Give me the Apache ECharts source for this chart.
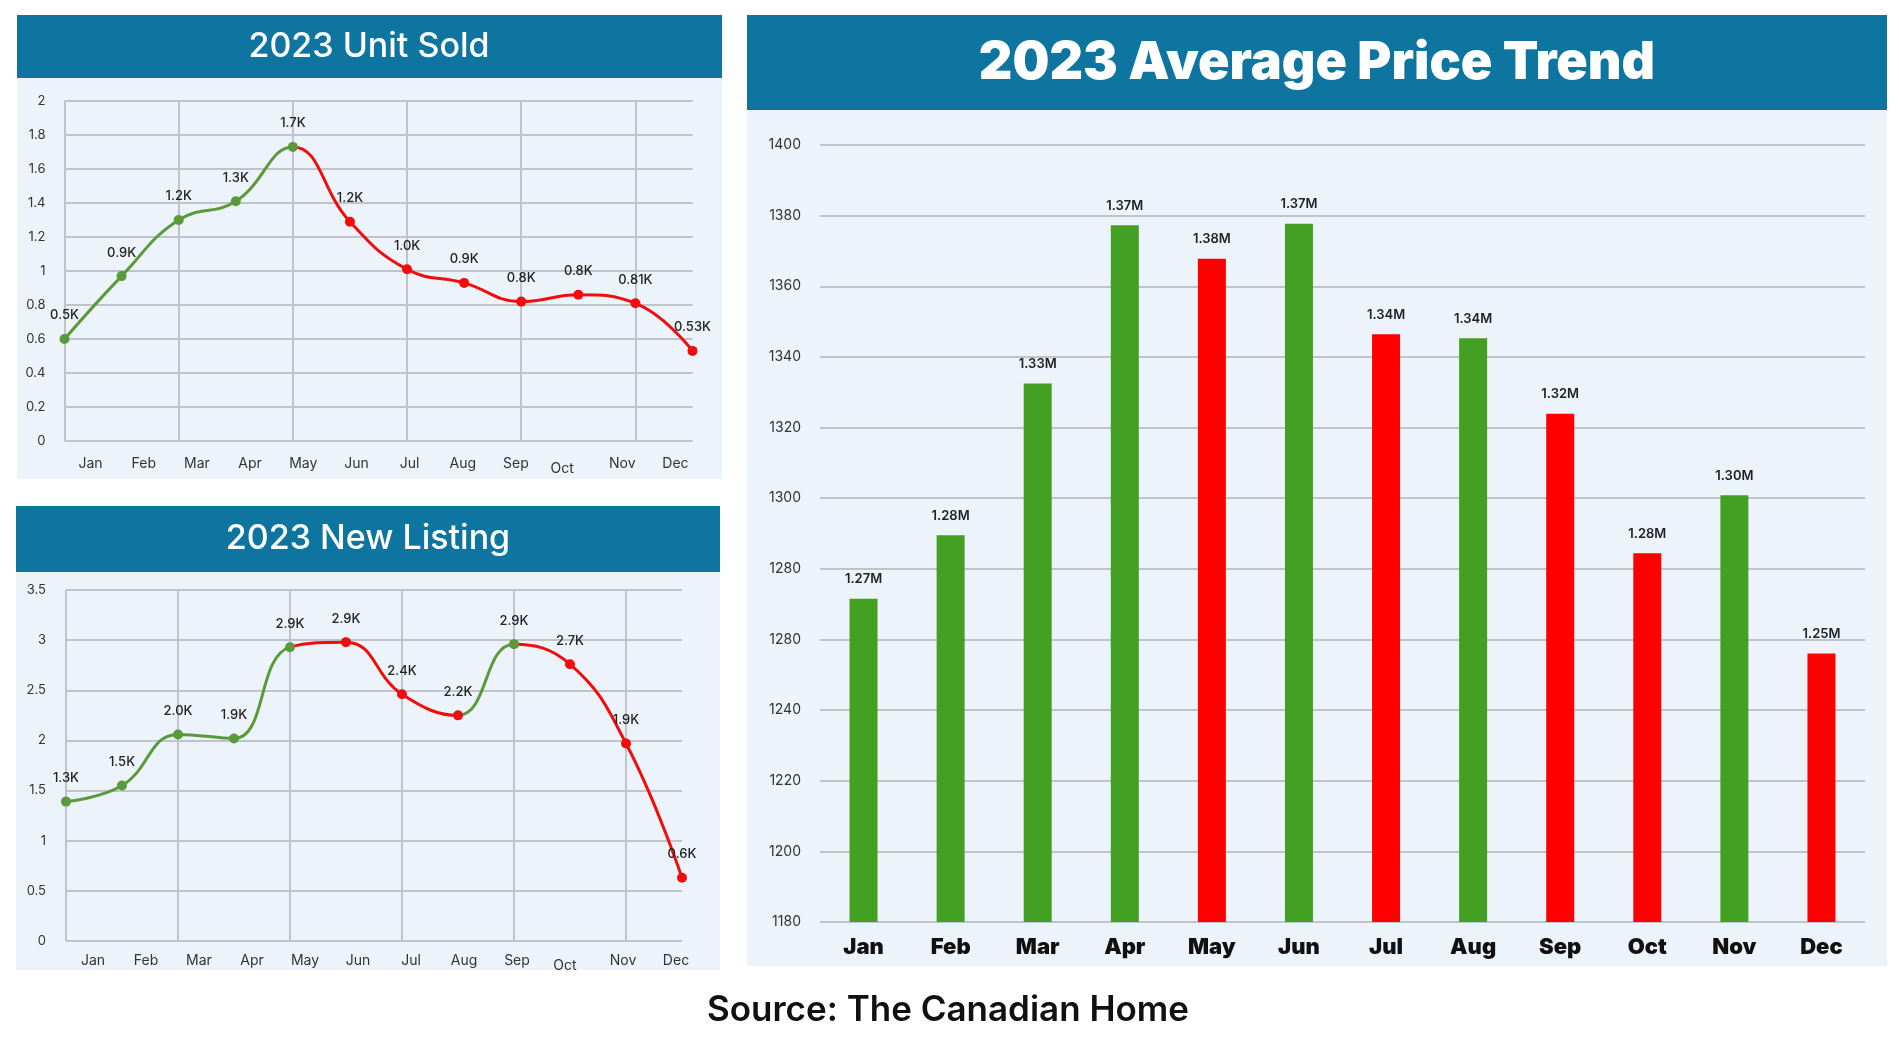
<!DOCTYPE html>
<html>
<head>
<meta charset="utf-8">
<script src="https://cdn.jsdelivr.net/npm/echarts@6/dist/echarts.min.js"></script>
<style>
html,body{margin:0;padding:0;background:#ffffff;}
#main{position:absolute;left:0;top:0;width:1899px;height:1042px;}
</style>
</head>
<body>
<div id="main"></div>
<script>
// ---------- data ----------
var months = ['Jan','Feb','Mar','Apr','May','Jun','Jul','Aug','Sep','Oct','Nov','Dec'];

var unitSold = [0.6, 0.97, 1.3, 1.41, 1.73, 1.29, 1.01, 0.93, 0.82, 0.86, 0.81, 0.53];
var unitSoldLabels = ['0.5K','0.9K','1.2K','1.3K','1.7K','1.2K','1.0K','0.9K','0.8K','0.8K','0.81K','0.53K'];
var unitSoldTrend = ['up','up','up','up','up','down','down','down','down','down','down','down'];

var newListing = [1.39, 1.55, 2.06, 2.02, 2.93, 2.98, 2.46, 2.25, 2.96, 2.76, 1.97, 0.63];
var newListingLabels = ['1.3K','1.5K','2.0K','1.9K','2.9K','2.9K','2.4K','2.2K','2.9K','2.7K','1.9K','0.6K'];
var newListingTrend = ['up','up','up','up','up','down','down','down','up','down','down','down'];

var avgPrice = [1271.5, 1289.5, 1332.5, 1377.3, 1367.8, 1377.7, 1346.4, 1345.3, 1323.9, 1284.4, 1300.8, 1256];
var avgPriceLabels = ['1.27M','1.28M','1.33M','1.37M','1.38M','1.37M','1.34M','1.34M','1.32M','1.28M','1.30M','1.25M'];
var avgPriceTrend = ['up','up','up','up','down','up','down','up','down','down','up','down'];
var priceTickValues = [1180,1200,1220,1240,1260,1280,1300,1320,1340,1360,1380,1400];
var priceTickLabels = ['1180','1200','1220','1240','1280','1280','1300','1320','1340','1360','1380','1400'];

var titles = ['2023 Unit Sold', '2023 New Listing', '2023 Average Price Trend'];
var sourceText = 'Source: The Canadian Home';

// ---------- style ----------
var LINE_GREEN = '#5b9a3a', LINE_RED = '#f20d0d';
var BAR_GREEN = '#44a023', BAR_RED = '#ff0000';
var HEADER = '#0e75a0', PANEL = '#ecf3fa', GRIDC = '#bfc4ca';
var FONT = 'Inter, "Noto Sans", sans-serif';

function pieces(trend, up, down) {
  return trend.map(function (t, i) {
    var p = { color: t === 'up' ? up : down };
    if (i === 0) { p.lte = 0; } else { p.gt = i - 1; p.lte = i; }
    return p;
  });
}

function monthLabelStyle(margin, octShift) {
  return {
    interval: 0, margin: margin, color: '#333', fontSize: 14, fontFamily: FONT,
    formatter: function (v) { return v === 'Oct' ? '{o|' + v + '}' : v; },
    rich: { o: { padding: [5, octShift, 0, 0], color: '#333', fontSize: 14, fontFamily: FONT } }
  };
}

var chart = echarts.init(document.getElementById('main'), null, { renderer: 'canvas' });

var option = {
  backgroundColor: '#ffffff',
  animation: false,
  graphic: [
    { type: 'rect', z: -10, shape: { x: 17, y: 78, width: 705, height: 401 }, style: { fill: PANEL } },
    { type: 'rect', z: -10, shape: { x: 17, y: 15, width: 705, height: 63 }, style: { fill: HEADER } },
    { type: 'text', z: 10, style: { text: titles[0], x: 369, y: 47, textAlign: 'center', textVerticalAlign: 'middle', align: 'center', verticalAlign: 'middle', fill: '#ffffff', font: '500 34px ' + FONT } },

    { type: 'rect', z: -10, shape: { x: 16, y: 572, width: 704, height: 398 }, style: { fill: PANEL } },
    { type: 'rect', z: -10, shape: { x: 16, y: 506, width: 704, height: 66 }, style: { fill: HEADER } },
    { type: 'text', z: 10, style: { text: titles[1], x: 368, y: 539, textAlign: 'center', textVerticalAlign: 'middle', align: 'center', verticalAlign: 'middle', fill: '#ffffff', font: '500 34px ' + FONT } },

    { type: 'rect', z: -10, shape: { x: 747, y: 110, width: 1140, height: 856 }, style: { fill: PANEL } },
    { type: 'rect', z: -10, shape: { x: 747, y: 15, width: 1140, height: 95 }, style: { fill: HEADER } },
    { type: 'text', z: 10, style: { text: titles[2], x: 1317, y: 63, textAlign: 'center', textVerticalAlign: 'middle', align: 'center', verticalAlign: 'middle', fill: '#ffffff', font: '900 52px ' + FONT } },

    { type: 'text', z: 10, style: { text: sourceText, x: 948, y: 1010, textAlign: 'center', textVerticalAlign: 'middle', align: 'center', verticalAlign: 'middle', fill: '#111111', font: '600 35px ' + FONT } }
  ],
  grid: [
    { left: 64.5, top: 101, width: 628, height: 340 },   // 0 unit sold data
    { left: 64, top: 101, width: 638, height: 340 },     // 1 unit sold month labels
    { left: 66, top: 590, width: 616, height: 351 },     // 2 new listing data
    { left: 66.5, top: 590, width: 636, height: 351 },   // 3 new listing month labels
    { left: 820, top: 145, width: 1045, height: 777 }    // 4 price bars
  ],
  xAxis: [
    { gridIndex: 0, type: 'category', data: months, boundaryGap: false,
      axisLine: { show: false }, axisTick: { show: false }, axisLabel: { show: false },
      splitLine: { show: true, interval: 1, lineStyle: { color: GRIDC, width: 2 } } },
    { gridIndex: 1, type: 'category', data: months, boundaryGap: true,
      axisLine: { show: false }, axisTick: { show: false }, splitLine: { show: false },
      axisLabel: monthLabelStyle(16, 14) },
    { gridIndex: 2, type: 'category', data: months, boundaryGap: false,
      axisLine: { show: false }, axisTick: { show: false }, axisLabel: { show: false },
      splitLine: { show: true, interval: 1, lineStyle: { color: GRIDC, width: 2 } } },
    { gridIndex: 3, type: 'category', data: months, boundaryGap: true,
      axisLine: { show: false }, axisTick: { show: false }, splitLine: { show: false },
      axisLabel: monthLabelStyle(13, 10) },
    { gridIndex: 4, type: 'category', data: months, boundaryGap: true,
      axisLine: { show: false }, axisTick: { show: false }, splitLine: { show: false },
      axisLabel: { interval: 0, margin: 14, color: '#111', fontSize: 22, fontWeight: 900, fontFamily: FONT } }
  ],
  yAxis: [
    { gridIndex: 0, type: 'value', min: 0, max: 2, interval: 0.2,
      axisLine: { show: false }, axisTick: { show: false },
      axisLabel: { margin: 19, color: '#333', fontSize: 13, fontFamily: FONT },
      splitLine: { lineStyle: { color: GRIDC, width: 2 } } },
    { gridIndex: 1, type: 'value', show: false, min: 0, max: 1 },
    { gridIndex: 2, type: 'value', min: 0, max: 3.5, interval: 0.5,
      axisLine: { show: false }, axisTick: { show: false },
      axisLabel: { margin: 20, color: '#333', fontSize: 13, fontFamily: FONT },
      splitLine: { lineStyle: { color: GRIDC, width: 2 } } },
    { gridIndex: 3, type: 'value', show: false, min: 0, max: 1 },
    { gridIndex: 4, type: 'value', min: priceTickValues[0], max: priceTickValues[priceTickValues.length - 1], interval: 20,
      axisLine: { show: false }, axisTick: { show: false },
      axisLabel: { margin: 19, color: '#333', fontSize: 14, fontFamily: FONT,
        formatter: function (v) { var i = priceTickValues.indexOf(Math.round(v)); return i >= 0 ? priceTickLabels[i] : ''; } },
      splitLine: { lineStyle: { color: GRIDC, width: 2 } } }
  ],
  visualMap: [
    { type: 'piecewise', show: false, seriesIndex: 0, dimension: 0, pieces: pieces(unitSoldTrend, LINE_GREEN, LINE_RED) },
    { type: 'piecewise', show: false, seriesIndex: 1, dimension: 0, pieces: pieces(newListingTrend, LINE_GREEN, LINE_RED) }
  ],
  series: [
    { type: 'line', xAxisIndex: 0, yAxisIndex: 0, data: unitSold, smooth: 0.45,
      symbol: 'circle', symbolSize: 10, lineStyle: { width: 3 },
      label: { show: true, position: 'top', distance: 12, color: '#222', fontSize: 13, fontWeight: 500, fontFamily: FONT,
        formatter: function (p) { return unitSoldLabels[p.dataIndex]; } } },
    { type: 'line', xAxisIndex: 2, yAxisIndex: 2, data: newListing, smooth: 0.45,
      symbol: 'circle', symbolSize: 10, lineStyle: { width: 3 },
      label: { show: true, position: 'top', distance: 12, color: '#222', fontSize: 13, fontWeight: 500, fontFamily: FONT,
        formatter: function (p) { return newListingLabels[p.dataIndex]; } } },
    { type: 'bar', xAxisIndex: 4, yAxisIndex: 4, barWidth: 28,
      data: avgPrice.map(function (v, i) {
        return { value: v, itemStyle: { color: avgPriceTrend[i] === 'up' ? BAR_GREEN : BAR_RED } };
      }),
      label: { show: true, position: 'top', distance: 13, color: '#222', fontSize: 13, fontWeight: 600, fontFamily: FONT,
        formatter: function (p) { return avgPriceLabels[p.dataIndex]; } } }
  ]
};
chart.setOption(option);
</script>
</body>
</html>
